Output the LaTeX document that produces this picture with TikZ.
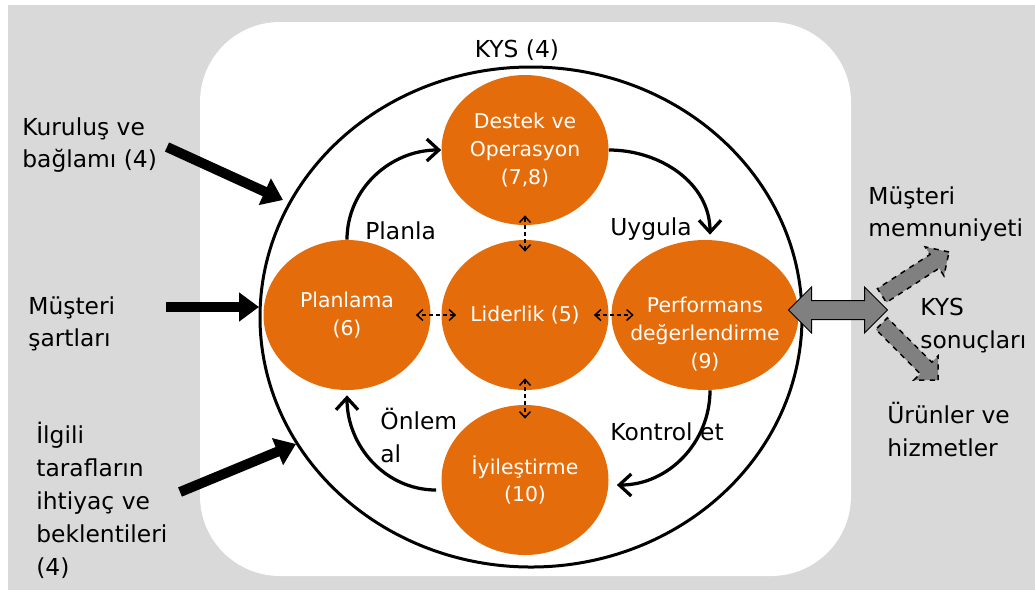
\documentclass[tikz,border=0pt]{standalone}
\usepackage{fontspec}
\setmainfont{DejaVu Sans}
\usetikzlibrary{arrows.meta,shapes.geometric,shapes.arrows}
\definecolor{kysorange}{RGB}{228,108,10}
\definecolor{panelgray}{RGB}{217,217,217}
\definecolor{blockgray}{RGB}{128,128,128}
\newcommand{\bigtext}{\fontsize{13.3pt}{18.7pt}\selectfont}
\newcommand{\smalltext}{\fontsize{11.6pt}{15.9pt}\selectfont}

\begin{document}
\begin{tikzpicture}[x=0.2mm,y=0.2mm,
   proc/.style={ellipse,fill=kysorange,text=white,font=\smalltext,align=center,
     inner sep=0pt,minimum width=33.4mm,minimum height=30mm},
   lbl/.style={font=\bigtext,inner sep=0pt,align=left},
   cyc/.style={line width=0.65mm,-{Straight Barb[length=2.4mm,width=4.4mm]}},
   link/.style={line width=0.3mm,dash pattern=on 0.8mm off 0.6mm,
     {Straight Barb[length=1.2mm,width=2.2mm]}-{Straight Barb[length=1.2mm,width=2.2mm]}},
   inarr/.style={line width=2mm,-{Triangle[length=4mm,width=5.6mm]}},
   outarr/.style={single arrow,draw=black,dashed,line width=0.3mm,fill=blockgray,
     inner xsep=0pt,inner ysep=1.5mm,single arrow head extend=1.8mm,minimum height=16mm}]
  \useasboundingbox (0,0) rectangle (1035,-592);
  \fill[white] (0,0) rectangle (1035,-592);
  \fill[panelgray] (8,-5) rectangle (1035,-590);
  \fill[white,rounded corners=16mm] (200,-22) rectangle (851,-576);

  % quality management system
  \node[draw,ellipse,line width=0.6mm,minimum width=108.4mm,minimum height=100mm] (kysring) at (531,-317) {};
  \node[lbl,anchor=base] (kys) at (517,-57) {KYS (4)};

  \node[proc] (destek) at (525,-150) {Destek ve\\Operasyon\\(7,8)};
  \node[proc] (planlama) at (347,-315) {Planlama\\(6)};
  \node[proc] (liderlik) at (525,-315) {Liderlik (5)};
  \node[proc,minimum width=37.4mm] (performans) at (705,-315) {};
  \node[font=\smalltext,text=white,align=center,inner sep=0pt] (performanstext) at (705,-334) {Performans\\değerlendirme\\(9)};
  \node[proc] (iyilestirme) at (525,-480) {İyileştirme\\(10)};

  % PUKÖ cycle
  \draw[cyc] (planlama.north) to[out=90,in=180] (destek.west);
  \draw[cyc] (destek.east) to[out=0,in=90] ([xshift=1mm,yshift=1mm]performans.north);
  \draw[cyc] ([xshift=1mm]performans.south) to[out=-90,in=0] ([xshift=1.6mm,yshift=-1mm]iyilestirme.east);
  \draw[cyc] ([xshift=-1mm,yshift=-2mm]iyilestirme.west) to[out=180,in=-90] ([yshift=-1mm]planlama.south);
  \node[lbl,anchor=base west] (planla) at (365,-239) {Planla};
  \node[lbl,anchor=base west] (uygula) at (610,-235) {Uygula};
  \node[lbl,anchor=base west] (kontrol) at (610,-440) {Kontrol et};
  \node[lbl,anchor=north west] (onlem) at (380,-408) {Önlem\\al};

  \draw[link,shorten <=-3mm,shorten >=-3mm] (liderlik.west) -- (planlama.east);
  \draw[link,shorten <=-3mm,shorten >=-4.5mm] (liderlik.east) -- (performans.west);
  \draw[link,shorten <=-2.4mm,shorten >=-2mm] (liderlik.north) -- (destek.south);
  \draw[link,shorten <=-2.4mm,shorten >=-2.8mm] (liderlik.south) -- (iyilestirme.north);

  % inputs
  \node[lbl,anchor=north west] (kurulus) at (22,-117) {Kuruluş ve\\bağlamı (4)};
  \node[lbl,anchor=north west] (sartlar) at (28,-296) {Müşteri\\şartları};
  \node[lbl,anchor=north west] (ilgili) at (36,-422) {İlgili\\tarafların\\ihtiyaç ve\\beklentileri\\(4)};
  \coordinate (kurulus-tail) at (167,-147);
  \coordinate (kurulus-head) at (283,-200);
  \coordinate (sartlar-tail) at (166,-307);
  \coordinate (sartlar-head) at (259,-307);
  \coordinate (ilgili-tail) at (180,-492);
  \coordinate (ilgili-head) at (296,-444);
  \draw[inarr] (kurulus-tail) -- (kurulus-head);
  \draw[inarr] (sartlar-tail) -- (sartlar-head);
  \draw[inarr] (ilgili-tail) -- (ilgili-head);

  % outputs
  \node[outarr,rotate=33] (memnunok) at (912,-276) {};
  \node[outarr,rotate=-45] (urunok) at (907,-349) {};
  \node[double arrow,draw=black,line width=0.2mm,fill=blockgray,inner xsep=0pt,inner ysep=1.8mm,
    double arrow head extend=2.7mm,minimum height=19.8mm] (sonucok) at (838,-310) {};
  \node[lbl,anchor=north west] (memnun) at (868,-186) {Müşteri\\memnuniyeti};
  \node[lbl,anchor=north west] (sonuc) at (920,-298) {KYS\\sonuçları};
  \node[lbl,anchor=north west] (urun) at (887,-402) {Ürünler ve\\hizmetler};
\end{tikzpicture}
\end{document}
